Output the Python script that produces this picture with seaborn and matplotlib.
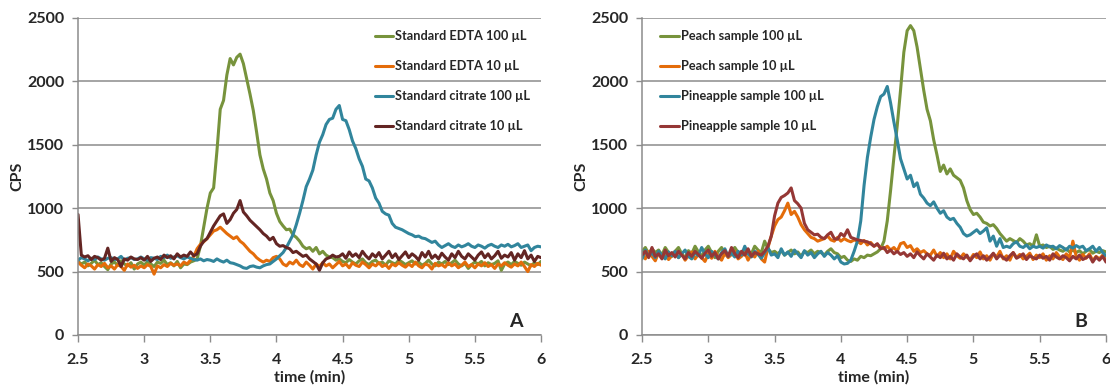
import numpy as np
import pandas as pd
import matplotlib
matplotlib.use("Agg")
import matplotlib.pyplot as plt
import seaborn as sns

# Sampling times (min), 0.025 min apart
time = np.round(np.arange(2.5, 6.0001, 0.025), 3)

# ---- Panel A: standards ----
edta_100 = [
    580, 560, 575, 545, 565, 590, 555, 570, 540, 515,
    560, 575, 550, 585, 560, 545, 570, 520, 560, 575,
    550, 580, 560, 540, 575, 565, 590, 555, 570, 545,
    580, 530, 560, 555, 575, 585, 600, 700, 850, 1000,
    1120, 1160, 1450, 1780, 1850, 2050, 2180, 2130, 2190, 2215,
    2140, 2020, 1900, 1770, 1600, 1420, 1310, 1230, 1120, 1060,
    960, 895, 860, 830, 835, 790, 770, 740, 700, 680,
    690, 660, 690, 640, 660, 630, 615, 610, 590, 600,
    580, 570, 595, 575, 560, 585, 600, 570, 555, 580,
    590, 565, 575, 550, 585, 570, 560, 590, 575, 555,
    570, 585, 560, 575, 550, 565, 590, 560, 545, 575,
    560, 580, 555, 570, 590, 560, 545, 565, 525, 555,
    575, 560, 580, 545, 570, 555, 565, 585, 510, 560,
    575, 555, 580, 565, 550, 575, 560, 545, 570, 555,
    580,
]
edta_10 = [
    575, 550, 530, 560, 545, 520, 555, 540, 565, 530,
    545, 520, 555, 540, 510, 560, 535, 550, 525, 545,
    530, 555, 540, 480, 545, 530, 555, 540, 565, 550,
    560, 545, 575, 560, 590, 620, 680, 715, 735, 760,
    790, 820, 830, 850, 825, 800, 780, 760, 775, 740,
    720, 690, 660, 640, 610, 590, 575, 590, 580, 610,
    620, 600, 560, 545, 575, 560, 590, 555, 540, 575,
    550, 520, 560, 540, 570, 545, 560, 530, 555, 580,
    545, 560, 530, 570, 550, 540, 575, 555, 530, 560,
    545, 570, 540, 555, 525, 560, 545, 570, 550, 535,
    560, 540, 575, 545, 530, 560, 550, 520, 565, 545,
    555, 535, 570, 545, 560, 530, 550, 575, 540, 555,
    530, 560, 545, 570, 540, 555, 525, 560, 545, 570,
    550, 535, 560, 545, 575, 540, 500, 555, 540, 565,
    550,
]
citrate_100 = [
    590, 610, 600, 585, 605, 595, 615, 600, 590, 605,
    610, 595, 600, 620, 590, 605, 610, 595, 600, 615,
    600, 590, 610, 605, 595, 620, 610, 630, 605, 615,
    625, 610, 600, 615, 605, 595, 590, 600, 585, 595,
    590, 580, 600, 585, 575, 590, 570, 565, 555, 545,
    530, 525, 540, 545, 535, 530, 545, 555, 560, 580,
    600, 625, 650, 690, 740, 790, 870, 960, 1060, 1170,
    1230, 1300, 1420, 1520, 1580, 1660, 1700, 1710, 1780, 1810,
    1700, 1690, 1620, 1530, 1470, 1390, 1330, 1230, 1215, 1160,
    1080, 1040, 975, 955, 945, 880, 850, 840, 830, 815,
    800, 790, 775, 780, 765, 760, 745, 730, 740, 710,
    690, 705, 720, 700, 690, 710, 695, 705, 720, 700,
    690, 710, 700, 685, 705, 715, 700, 690, 710, 700,
    715, 695, 705, 720, 690, 700, 710, 665, 690, 700,
    695,
]
citrate_10 = [
    950, 630, 615, 625, 595, 620, 610, 590, 605, 685,
    580, 610, 595, 540, 600, 590, 615, 600, 595, 610,
    590, 620, 580, 605, 615, 595, 630, 610, 625, 600,
    640, 615, 630, 620, 655, 625, 640, 700, 740, 760,
    810, 860, 900, 940, 955, 880, 910, 960, 990, 1060,
    970, 940, 905, 880, 855, 830, 800, 780, 750, 770,
    720, 700, 705, 690, 680, 650, 660, 640, 620, 630,
    600, 580, 560, 510, 570, 600, 610, 630, 615, 620,
    640, 605, 655, 620, 640, 610, 660, 625, 600, 640,
    615, 650, 600, 630, 660, 610, 640, 595, 625, 655,
    610, 640, 620, 590, 650, 615, 660, 605, 630, 600,
    645, 615, 590, 640, 610, 660, 620, 600, 640, 615,
    590, 630, 655, 610, 640, 600, 625, 660, 605, 630,
    615, 650, 590, 640, 610, 665, 600, 630, 580, 620,
    610,
]

# ---- Panel B: fruit samples ----
peach_100 = [
    660, 690, 640, 680, 650, 670, 630, 690, 650, 620,
    660, 690, 640, 610, 665, 640, 700, 655, 620, 670,
    700, 650, 610, 660, 690, 640, 620, 665, 690, 650,
    630, 680, 660, 640, 700, 670, 650, 740, 680, 650,
    660, 640, 665, 630, 650, 670, 640, 655, 620, 660,
    650, 670, 640, 660, 650, 630, 660, 680, 650, 640,
    610, 620, 590, 580, 600, 590, 620, 610, 630, 625,
    640, 655, 680, 740, 900, 1140, 1400, 1650, 1930, 2230,
    2400, 2440, 2400, 2270, 2100, 1930, 1780, 1690, 1540, 1420,
    1290, 1340, 1270, 1310, 1260, 1240, 1220, 1160, 1060, 990,
    950, 960, 930, 890, 880, 860, 870, 840, 800, 770,
    740, 760, 745, 730, 760, 740, 710, 720, 700, 790,
    700, 710, 690, 700, 675, 685, 670, 660, 680, 655,
    670, 650, 665, 640, 660, 675, 645, 660, 650, 665,
    655,
]
peach_10 = [
    640, 600, 660, 620, 585, 650, 610, 640, 595, 625,
    660, 610, 640, 590, 625, 655, 600, 635, 610, 580,
    640, 605, 660, 620, 590, 645, 610, 635, 660, 600,
    620, 650, 590, 640, 615, 660, 600, 575, 690, 780,
    860, 910, 930, 980, 1040, 950, 975, 930, 870, 830,
    800, 770, 760, 740, 750, 760, 780, 750, 740, 770,
    740, 760, 745, 735, 750, 740, 720, 745, 710, 730,
    700, 715, 690, 680, 700, 670, 690, 660, 720, 730,
    690, 705, 660, 680, 650, 665, 640, 630, 670, 620,
    650, 610, 640, 600, 660, 625, 605, 640, 615, 595,
    635, 610, 655, 600, 625, 590, 640, 615, 660, 600,
    625, 590, 650, 610, 635, 600, 620, 645, 595, 630,
    610, 640, 590, 625, 600, 650, 615, 595, 640, 610,
    740, 620, 590, 635, 605, 640, 585, 620, 600, 630,
    590,
]
pineapple_100 = [
    600, 670, 620, 650, 610, 660, 630, 600, 655, 625,
    660, 610, 640, 670, 620, 600, 650, 625, 690, 640,
    610, 660, 630, 600, 650, 680, 620, 645, 615, 660,
    630, 700, 640, 615, 660, 635, 605, 650, 690, 630,
    640, 610, 680, 630, 655, 620, 670, 640, 610, 665,
    630, 650, 610, 640, 660, 620, 650, 630, 600, 625,
    575, 560, 565, 590, 660, 740, 900, 1180, 1400, 1560,
    1700, 1800, 1880, 1900, 1960, 1830, 1680, 1540, 1390, 1310,
    1230, 1260, 1170, 1200, 1110, 1080, 1040, 1020, 1050, 1000,
    960, 980, 930, 910, 920, 880, 850, 800, 780, 790,
    810, 830, 800, 820, 845, 740, 780, 700, 760, 690,
    700, 690, 720, 735, 700, 690, 710, 680, 700, 690,
    700, 685, 710, 695, 700, 680, 705, 690, 670, 700,
    685, 705, 690, 700, 665, 680, 700, 660, 690, 650,
    625,
]
pineapple_10 = [
    630, 660, 610, 690, 620, 640, 600, 670, 625, 650,
    615, 660, 630, 600, 650, 620, 660, 635, 605, 645,
    670, 620, 650, 600, 640, 665, 620, 690, 640, 610,
    660, 630, 680, 620, 650, 640, 630, 660, 700, 780,
    940, 1040, 1085, 1100, 1120, 1160, 1060, 1035, 1000, 880,
    830, 810, 790, 795, 770, 760, 790, 810, 760, 755,
    800, 780, 830, 770, 760, 750, 745, 740, 735, 720,
    700, 720, 680, 690, 650, 670, 640, 660, 635, 650,
    620, 640, 610, 655, 625, 600, 640, 615, 590, 630,
    610, 645, 600, 620, 590, 640, 615, 600, 630, 585,
    620, 640, 600, 625, 590, 615, 645, 600, 630, 610,
    590, 625, 650, 605, 620, 640, 595, 625, 610, 600,
    630, 605, 620, 590, 640, 615, 600, 625, 610, 585,
    620, 600, 630, 595, 610, 625, 575, 615, 590, 620,
    575,
]

labels_a = ["Standard EDTA 100 µL", "Standard EDTA 10 µL",
            "Standard citrate 100 µL", "Standard citrate 10 µL"]
labels_b = ["Peach sample 100 µL", "Peach sample 10 µL",
            "Pineapple sample 100 µL", "Pineapple sample 10 µL"]
colors_a = ["#77933C", "#E46C0A", "#31859C", "#632523"]
colors_b = ["#77933C", "#E46C0A", "#31859C", "#953735"]

x_ticks = [2.5, 3, 3.5, 4, 4.5, 5, 5.5, 6]
x_ticklabels = ["2.5", "3", "3.5", "4", "4.5", "5", "5.5", "6"]
y_ticks = [0, 500, 1000, 1500, 2000, 2500]

sns.set_theme(style="white")
plt.rcParams["font.family"] = ["Lato", "DejaVu Sans"]
plt.rcParams["font.weight"] = "bold"

GRID = "#8c8c8c"

fig = plt.figure(figsize=(11.1, 3.87), dpi=100)
ax_a = fig.add_axes([0.0703, 0.1344, 0.4171, 0.8191])
ax_b = fig.add_axes([0.5784, 0.1344, 0.4180, 0.8191])


def long_frame(series, labels):
    parts = []
    for vals, lab in zip(series, labels):
        parts.append(pd.DataFrame({"time": time, "CPS": vals, "series": lab}))
    return pd.concat(parts, ignore_index=True)


def draw_panel(ax, series, labels, colors, tag, legend_anchor):
    df = long_frame(series, labels)
    sns.lineplot(data=df, x="time", y="CPS", hue="series", hue_order=labels,
                 palette=dict(zip(labels, colors)), linewidth=2.2, ax=ax,
                 legend=True)
    ax.set_xlim(2.5, 6)
    ax.set_ylim(0, 2500)
    ax.set_xticks(x_ticks)
    ax.set_xticklabels(x_ticklabels)
    ax.set_yticks(y_ticks)
    ax.grid(axis="y", color=GRID, linewidth=1.1)
    ax.grid(axis="x", visible=False)
    ax.set_axisbelow(True)
    for side in ("top", "right"):
        ax.spines[side].set_visible(False)
    for side in ("left", "bottom"):
        ax.spines[side].set_color(GRID)
        ax.spines[side].set_linewidth(1.1)
    ax.tick_params(axis="x", direction="out", length=5, width=1, color=GRID,
                   labelsize=11.5, pad=8, bottom=True)
    ax.tick_params(axis="y", direction="out", length=4, width=1, color=GRID,
                   labelsize=11.5, pad=6, left=True)
    for t in ax.get_xticklabels() + ax.get_yticklabels():
        t.set_fontweight("bold")
    ax.set_xlabel("time (min)", fontsize=11.5, fontweight="bold", labelpad=2)
    ax.set_ylabel("CPS", fontsize=11.5, fontweight="bold", labelpad=2)
    ax.text(0.96, 0.015, tag, transform=ax.transAxes, ha="right", va="bottom",
            fontsize=14, fontweight="bold")
    ax.legend(loc="upper left", bbox_to_anchor=legend_anchor, frameon=False,
              prop={"size": 9.2, "weight": "bold"}, handlelength=1.45,
              handletextpad=0.15, labelspacing=1.42, borderpad=0,
              borderaxespad=0)


draw_panel(ax_a, [edta_100, edta_10, citrate_100, citrate_10], labels_a,
           colors_a, "A", (0.641, 0.962))
draw_panel(ax_b, [peach_100, peach_10, pineapple_100, pineapple_10], labels_b,
           colors_b, "B", (0.039, 0.962))

fig.savefig("out.png", dpi=100)
